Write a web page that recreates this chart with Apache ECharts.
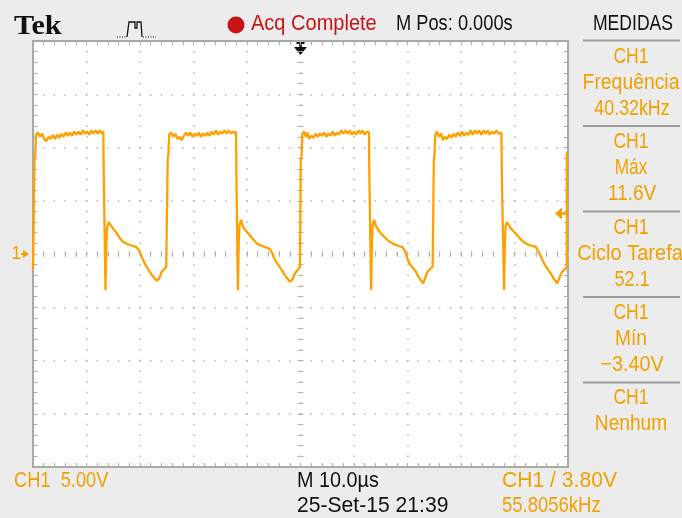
<!DOCTYPE html>
<html>
<head>
<meta charset="utf-8">
<title>CH1 - Tek</title>
<script src="https://cdn.jsdelivr.net/npm/echarts@6/dist/echarts.min.js"></script>
<style>
  html, body { margin: 0; padding: 0; background: #ececec; }
  #scope { width: 682px; height: 518px; }
</style>
</head>
<body>
<div id="scope"></div>
<script>
// ---- acquisition settings ----
const timeRangeUs = [-50, 50];   // 10 div x 10.0 us/div, trigger at the centre
const timePerDivUs = 10;
const voltRange = [-20, 20];     // 8 div x 5.00 V/div, CH1 ground at the centre
const voltsPerDiv = 5;
const triggerTimeUs = 0;
const triggerLevelV = 3.80;
const ch1GroundV = 0;

// ---- CH1 trace, [time in us, volts] ----
const pulse1 = [
  [-50.0,-1.4],[-49.8,-1.3],[-49.74,-1.3],[-49.72,9.0],[-49.57,9.3],[-49.45,11.2],
  [-49.1,11.4],[-48.7,11.0],[-48.3,11.3],[-47.9,10.8],[-47.5,10.6],[-47.1,11.0],[-46.7,10.8],
  [-46.3,11.2],[-45.9,10.8],[-45.5,11.2],[-45.1,10.9],[-44.7,11.3],[-44.3,11.0],[-43.9,11.4],
  [-43.5,11.1],[-43.1,11.4],[-42.7,11.1],[-42.3,11.5],[-41.9,11.2],[-41.5,11.5],[-41.1,11.2],
  [-40.7,11.6],[-40.3,11.3],[-39.9,11.5],[-39.5,11.2],[-39.1,11.6],[-38.7,11.3],[-38.3,11.6],
  [-37.9,11.3],[-37.5,11.6],[-37.1,11.3],[-36.85,11.5],
  [-36.8,8.3],[-36.55,8.2],[-36.45,-3.4],[-36.3,0.8],[-36.15,2.4],[-35.9,3.0],[-35.6,3.1],
  [-35.3,2.6],[-34.9,2.3],[-34.4,2.0],[-33.8,1.5],[-33.2,1.15],[-32.6,1.0],[-31.95,0.85],
  [-31.3,0.75],[-30.7,0.65],[-30.3,0.45],[-30.05,0.2],[-29.6,-0.35],[-29.15,-0.85],[-28.7,-1.25],
  [-28.2,-1.65],[-27.75,-2.0],[-27.25,-2.3],[-26.9,-2.5],[-26.65,-2.6],[-26.4,-2.3],[-26.0,-1.7],
  [-25.6,-1.5],[-25.1,-1.2],[-24.86,-1.15]
];
const pulse2 = [
  [-24.82,9.0],[-24.7,9.3],[-24.55,11.2],
  [-24.2,11.4],[-23.8,11.0],[-23.4,11.3],[-23.0,10.8],[-22.6,11.0],[-22.2,10.7],[-21.8,11.1],
  [-21.4,11.4],[-21.0,11.1],[-20.6,11.4],[-20.2,11.0],[-19.8,11.3],[-19.4,11.1],[-19.0,11.4],
  [-18.6,11.0],[-18.2,11.3],[-17.8,11.1],[-17.4,11.4],[-17.0,11.1],[-16.6,11.5],[-16.2,11.2],
  [-15.8,11.6],[-15.4,11.2],[-15.0,11.5],[-14.6,11.3],[-14.2,11.6],[-13.8,11.3],[-13.4,11.6],
  [-13.0,11.3],[-12.6,11.5],[-12.2,11.3],[-12.05,11.5],
  [-12.0,8.1],[-11.8,8.0],[-11.7,-3.4],[-11.55,1.0],[-11.4,2.7],[-11.1,3.2],[-10.8,2.6],
  [-10.4,2.3],[-9.9,2.0],[-9.55,1.8],[-8.9,1.4],[-8.3,1.05],[-7.7,0.85],[-7.1,0.75],[-6.4,0.6],
  [-5.8,0.5],[-5.3,0.1],[-4.9,-0.4],[-4.4,-0.85],[-3.9,-1.2],[-3.4,-1.6],[-2.9,-2.0],[-2.4,-2.35],
  [-2.0,-2.6],[-1.75,-2.75],[-1.5,-2.4],[-1.1,-1.9],[-0.8,-1.65],[-0.4,-1.4],[-0.1,-1.2],[0.03,-1.2]
];
const pulse3 = [
  [0.05,8.9],[0.2,9.2],[0.35,11.3],
  [0.7,11.5],[1.0,11.0],[1.3,11.4],[1.6,10.8],[2.0,11.1],[2.4,10.9],[2.8,11.3],[3.2,11.0],
  [3.6,11.3],[4.0,11.1],[4.4,11.4],[4.8,11.0],[5.2,11.3],[5.6,11.1],[6.0,11.5],[6.4,11.1],
  [6.8,11.4],[7.2,11.2],[7.6,11.6],[8.0,11.3],[8.4,11.6],[8.8,11.3],[9.2,11.6],[9.6,11.2],
  [10.0,11.5],[10.4,11.2],[10.8,11.6],[11.2,11.3],[11.6,11.6],[12.0,11.2],[12.4,11.5],[12.8,11.4],
  [12.85,8.0],[13.1,7.9],[13.2,-3.4],[13.35,1.2],[13.5,2.8],[13.8,3.2],[14.1,2.6],[14.5,2.3],
  [14.9,2.0],[15.3,1.8],[15.9,1.5],[16.5,1.2],[17.2,1.0],[17.8,0.85],[18.4,0.75],[19.05,0.65],
  [19.5,0.3],[19.9,-0.3],[20.3,-0.85],[20.9,-1.25],[21.55,-1.65],[22.0,-2.1],[22.5,-2.45],
  [22.9,-2.75],[23.2,-2.4],[23.5,-1.95],[23.75,-1.65],[24.2,-1.4],[24.7,-1.2],[24.9,-1.15]
];
const pulse4 = [
  [24.92,8.9],[25.05,9.3],[25.2,11.2],
  [25.5,11.5],[25.9,11.0],[26.3,11.3],[26.6,10.7],[27.0,11.0],[27.4,10.8],[27.8,11.2],[28.2,10.9],
  [28.6,11.3],[29.0,11.0],[29.4,11.4],[29.8,11.1],[30.2,11.5],[30.6,11.1],[31.0,11.4],[31.4,11.2],
  [31.8,11.6],[32.2,11.2],[32.6,11.6],[33.0,11.3],[33.4,11.6],[33.8,11.2],[34.2,11.6],[34.6,11.3],
  [35.0,11.6],[35.4,11.2],[35.8,11.5],[36.2,11.3],[36.6,11.6],[37.1,11.3],[37.55,11.4],
  [37.65,6.8],[37.95,6.9],[38.05,-3.4],[38.2,1.0],[38.35,2.6],[38.6,3.0],[38.9,2.9],[39.3,2.4],
  [39.7,2.2],[40.2,1.95],[40.8,1.6],[41.4,1.25],[42.1,1.0],[42.7,0.85],[43.3,0.75],[43.95,0.7],
  [44.4,0.3],[44.9,-0.2],[45.5,-0.85],[46.1,-1.35],[46.75,-1.8],[47.3,-2.3],[47.7,-2.55],
  [48.0,-2.75],[48.3,-2.4],[48.6,-1.95],[48.95,-1.65],[49.3,-1.45],[49.6,-1.35],[49.78,-1.3]
];
const lastEdge = [[49.8,9.6]];

// ---- screen texts ----
const headerTexts = ['Tek', 'Acq Complete', 'M Pos: 0.000s', 'MEDIDAS'];
const measChannel = ['CH1', 'CH1', 'CH1', 'CH1', 'CH1'];
const measName = ['Frequência', 'Máx', 'Ciclo Tarefa', 'Mín', 'Nenhum'];
const measValue = ['40.32kHz', '11.6V', '52.1', '\u22123.40V', ''];
const footerTexts = ['CH1  5.00V', 'M 10.0\u00b5s', '25-Set-15 21:39', 'CH1 / 3.80V', '55.8056kHz'];

// ---- styling ----
const ORANGE = '#f0a000';
const TRACE = '#ffa000';
const RED = '#c81414';
const INK = '#111111';
const BORDER = '#a9a9a9';
const DOTS = '#b4b4b4';
const FONT = '"Liberation Sans",Arial,sans-serif';

const trace = [].concat(pulse1, pulse2, pulse3, pulse4, lastEdge);

function frameX(position) {
  return {
    type: 'value', min: timeRangeUs[0], max: timeRangeUs[1], interval: timePerDivUs, position,
    axisLine: { show: true, onZero: false, lineStyle: { color: BORDER, width: 2 } },
    axisTick: { show: true, inside: true, length: 4, lineStyle: { color: BORDER, width: 1 } },
    minorTick: { show: true, splitNumber: 5, length: 4, lineStyle: { color: BORDER, width: 1 } },
    axisLabel: { show: false },
    splitLine: { show: false }
  };
}
function frameY(position) {
  return {
    type: 'value', min: voltRange[0], max: voltRange[1], interval: voltsPerDiv, position,
    axisLine: { show: true, onZero: false, lineStyle: { color: BORDER, width: 2 } },
    axisTick: { show: true, inside: true, length: 4, lineStyle: { color: BORDER, width: 1 } },
    minorTick: { show: true, splitNumber: 5, length: 4, lineStyle: { color: BORDER, width: 1 } },
    axisLabel: { show: false },
    splitLine: { show: false }
  };
}
// centre cross-hair: two axes on the zero line, ticks pointing both ways
function centreX(position, zeroIdx) {
  return {
    type: 'value', min: timeRangeUs[0], max: timeRangeUs[1], interval: timePerDivUs, position,
    axisLine: { show: true, onZero: true, onZeroAxisIndex: zeroIdx, lineStyle: { color: 'rgba(0,0,0,0)' } },
    axisTick: { show: true, inside: true, length: 3, lineStyle: { color: DOTS, width: 1 } },
    minorTick: { show: true, splitNumber: 5, length: 3, lineStyle: { color: DOTS, width: 1 } },
    axisLabel: { show: false },
    splitLine: { show: false }
  };
}
function centreY(position, zeroIdx) {
  return {
    type: 'value', min: voltRange[0], max: voltRange[1], interval: voltsPerDiv, position,
    axisLine: { show: true, onZero: true, onZeroAxisIndex: zeroIdx, lineStyle: { color: 'rgba(0,0,0,0)' } },
    axisTick: { show: true, inside: true, length: 3, lineStyle: { color: DOTS, width: 1 } },
    minorTick: { show: true, splitNumber: 5, length: 3, lineStyle: { color: DOTS, width: 1 } },
    axisLabel: { show: false },
    splitLine: { show: false }
  };
}

const xMain = frameX('bottom');
xMain.splitLine = { show: true, lineStyle: { color: DOTS, width: 1.5, type: [1.5, 9.15], dashOffset: 0.75 } };
const yMain = frameY('left');
yMain.splitLine = { show: true, lineStyle: { color: DOTS, width: 1.5, type: [1.5, 9.2], dashOffset: 0.75 } };

const chart = echarts.init(document.getElementById('scope'), null, { renderer: 'canvas' });

chart.setOption({
  animation: false,
  backgroundColor: '#ececec',
  grid: { left: 33, top: 41, width: 535, height: 426, show: true, backgroundColor: '#ffffff', borderWidth: 0, outerBoundsMode: 'none' },
  xAxis: [xMain, frameX('top'), centreX('bottom', 0), centreX('top', 1)],
  yAxis: [yMain, frameY('right'), centreY('left', 0), centreY('right', 1)],
  series: [{
    type: 'line', xAxisIndex: 0, yAxisIndex: 0,
    data: trace, showSymbol: false, symbol: 'none', clip: true,
    lineStyle: { color: TRACE, width: 2.3 },
    emphasis: { disabled: true }
  }]
});

// narrow screen font: regular face squeezed horizontally about its anchor
function text(str, x, y, color, align, sx, extra) {
  return {
    type: 'text', x: x, y: y, scaleX: sx, silent: true,
    style: Object.assign({
      text: str, fill: color, fontSize: 22, fontFamily: FONT,
      align: align, textAlign: align, verticalAlign: 'middle', textVerticalAlign: 'middle'
    }, extra || {})
  };
}

const g = [];
// header bar
g.push(text(headerTexts[0], 14, 27, INK, 'left', 1.12, { fontFamily: '"Liberation Serif","DejaVu Serif",serif', fontWeight: 'bold', fontSize: 27 }));
g.push({ type: 'polyline', silent: true, shape: { points: [[117, 37], [127, 37]] }, style: { stroke: INK, lineWidth: 1, lineDash: [1, 1.5], fill: null } });
g.push({ type: 'polyline', silent: true, shape: { points: [[127, 37], [129, 22], [135, 22], [135, 28], [137, 28], [137, 22], [141, 22], [142, 37]] }, style: { stroke: INK, lineWidth: 1.3, fill: null } });
g.push({ type: 'polyline', silent: true, shape: { points: [[143, 37], [156, 37]] }, style: { stroke: INK, lineWidth: 1, lineDash: [1, 1.5], fill: null } });
g.push({ type: 'circle', silent: true, shape: { cx: 236, cy: 25, r: 8.5 }, style: { fill: RED } });
g.push(text(headerTexts[1], 251, 24, RED, 'left', 0.91));
g.push(text(headerTexts[2], 396, 24, INK, 'left', 0.83));
g.push(text(headerTexts[3], 633, 24, INK, 'center', 0.8));

// measurement panel
const sepY = [40.5, 126, 211.5, 297, 382.5];
sepY.forEach(function (y) {
  g.push({ type: 'line', silent: true, shape: { x1: 583, y1: y, x2: 680, y2: y }, style: { stroke: '#9c9c9c', lineWidth: 2 } });
});
const nameScale = [0.88, 0.78, 0.91, 0.87, 0.87];
const valueScale = [0.81, 0.87, 0.82, 0.9, 1];
for (let i = 0; i < measName.length; i++) {
  const base = 57 + 85.3 * i;
  g.push(text(measChannel[i], 631, base, ORANGE, 'center', 0.8));
  g.push(text(measName[i], i === 2 ? 630 : 631, base + 26, ORANGE, 'center', nameScale[i]));
  if (measValue[i]) g.push(text(measValue[i], 632, base + 52, ORANGE, 'center', valueScale[i]));
}

// footer
g.push(text(footerTexts[0], 14, 481, ORANGE, 'left', 0.83));
g.push(text(footerTexts[1], 297, 481, INK, 'left', 0.9));
g.push(text(footerTexts[2], 297, 506, INK, 'left', 0.96));
g.push(text(footerTexts[3], 502, 481, ORANGE, 'left', 0.96));
g.push(text(footerTexts[4], 502, 506, ORANGE, 'left', 0.84));

// markers placed through the axes
const finder = { xAxisIndex: 0, yAxisIndex: 0 };
const gnd = chart.convertToPixel(finder, [timeRangeUs[0], ch1GroundV]);
g.push(text('1', 21, gnd[1], ORANGE, 'right', 0.9, { fontSize: 19 }));
g.push({ type: 'polygon', silent: true, shape: { points: [[23, gnd[1] - 4], [29, gnd[1]], [23, gnd[1] + 4]] }, style: { fill: ORANGE } });
g.push({ type: 'line', silent: true, shape: { x1: 21, y1: gnd[1], x2: 26, y2: gnd[1] }, style: { stroke: ORANGE, lineWidth: 2 } });

const lvl = chart.convertToPixel(finder, [timeRangeUs[1], triggerLevelV]);
g.push({ type: 'polygon', silent: true, shape: { points: [[lvl[0] - 13, lvl[1]], [lvl[0] - 6, lvl[1] - 6], [lvl[0] - 6, lvl[1] + 6]] }, style: { fill: ORANGE } });
g.push({ type: 'line', silent: true, shape: { x1: lvl[0] - 7, y1: lvl[1], x2: lvl[0], y2: lvl[1] }, style: { stroke: ORANGE, lineWidth: 2.5 } });

const trg = chart.convertToPixel(finder, [triggerTimeUs, voltRange[1]]);
g.push({ type: 'line', silent: true, shape: { x1: trg[0] - 4, y1: trg[1] + 2, x2: trg[0] + 4, y2: trg[1] + 2 }, style: { stroke: INK, lineWidth: 2 } });
g.push({ type: 'line', silent: true, shape: { x1: trg[0], y1: trg[1] + 1, x2: trg[0], y2: trg[1] + 8 }, style: { stroke: INK, lineWidth: 2.5 } });
g.push({ type: 'polygon', silent: true, shape: { points: [[trg[0] - 6.5, trg[1] + 6], [trg[0] + 6.5, trg[1] + 6], [trg[0], trg[1] + 14]] }, style: { fill: INK } });

chart.setOption({ graphic: g });
</script>
</body>
</html>
